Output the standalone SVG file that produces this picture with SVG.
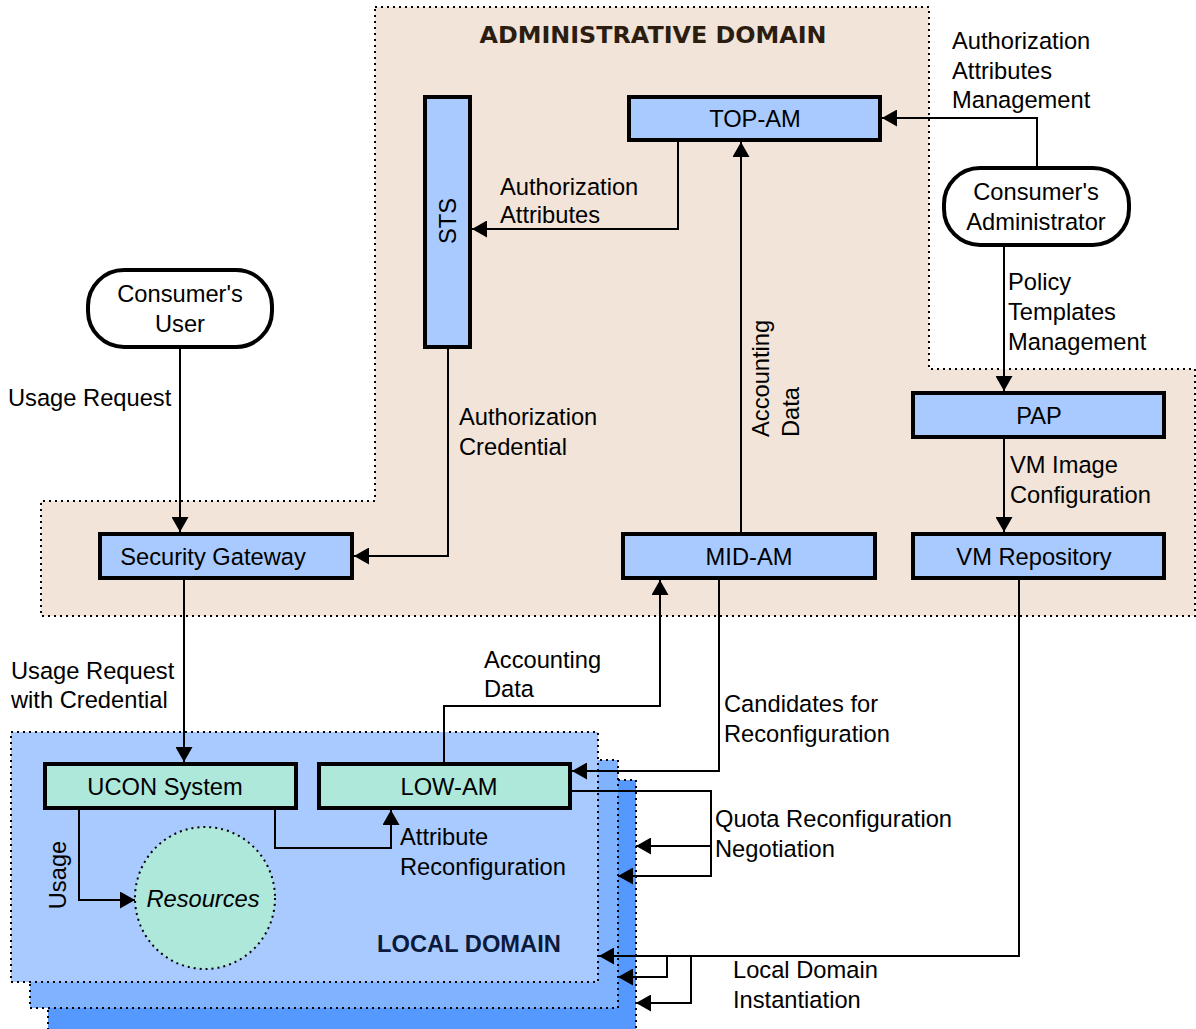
<svg xmlns="http://www.w3.org/2000/svg" width="1196" height="1029" viewBox="0 0 1196 1029">
  <style>
    .box { fill: #a9caff; stroke: #000; stroke-width: 4; }
    .teal { fill: #ade8db; stroke: #000; stroke-width: 4; }
    .pill { fill: #fff; stroke: #000; stroke-width: 4; }
    .zone { stroke: #000; stroke-width: 2; stroke-dasharray: 2 4; }
    .edge { fill: none; stroke: #000; stroke-width: 2; marker-end: url(#arrow); }
    text { font-family: "Liberation Sans", Arial, sans-serif; font-size: 23.7px; fill: #000; }
    .mid { text-anchor: middle; }
    .title { font-weight: bold; }
  </style>
  <defs>
    <marker id="arrow" markerUnits="userSpaceOnUse" markerWidth="15" markerHeight="17" viewBox="0 0 15 17" refX="15" refY="8.5" orient="auto">
      <path d="M0,0 L15,8.5 L0,17 z" fill="#000"/>
    </marker>
  </defs>

  <rect width="1196" height="1029" fill="#fff"/>

  <!-- administrative domain area -->
  <g id="admin-domain">
    <polygon class="zone" fill="#f2e4d8" points="375,7 929,7 929,369 1195,369 1195,616 41,616 41,501 375,501"/>
    <text class="mid title" x="653" y="43" style="font-family:'DejaVu Sans',Verdana,sans-serif;font-size:23px;fill:#2b1d10" textLength="347" lengthAdjust="spacingAndGlyphs">ADMINISTRATIVE DOMAIN</text>
  </g>

  <!-- stacked local domains -->
  <g id="local-domain">
    <rect class="zone" fill="#5599ff" x="48" y="780" width="588" height="260"/>
    <rect class="zone" fill="#80b3ff" x="30" y="760" width="588" height="248"/>
    <rect class="zone" fill="#a9caff" x="11" y="732" width="587" height="250"/>
    <text class="mid title" x="469" y="952" style="fill:#0b1a3b">LOCAL DOMAIN</text>
  </g>

  <!-- connectors -->
  <g id="connectors">
    <path class="edge" d="M1037,166 V118 H882"/>
    <path class="edge" d="M1004,247 V391"/>
    <path class="edge" d="M1004,439 V532"/>
    <path class="edge" d="M678,142 V229 H472"/>
    <path class="edge" d="M448,349 V556 H354"/>
    <path class="edge" d="M180,349 V532"/>
    <path class="edge" d="M184,580 V762"/>
    <path class="edge" d="M741,532 V142"/>
    <path class="edge" d="M444,762 V706 H660 V580"/>
    <path class="edge" d="M719,580 V771 H572"/>
    <path class="edge" d="M572,791 H711 V876 H618"/>
    <path class="edge" d="M711,846 H636"/>
    <path class="edge" d="M1019,580 V956 H599"/>
    <path class="edge" d="M667,956 V977 H618"/>
    <path class="edge" d="M691,956 V1003 H636"/>
    <path class="edge" d="M79,810 V900 H135"/>
    <path class="edge" d="M275,810 V848 H391 V810"/>
  </g>

  <!-- connector labels -->
  <g id="labels">
    <text x="952" y="49">Authorization</text>
    <text x="952" y="78.5">Attributes</text>
    <text x="952" y="108">Management</text>
    <text x="1008" y="290">Policy</text>
    <text x="1008" y="320">Templates</text>
    <text x="1008" y="350">Management</text>
    <text x="1010" y="473">VM Image</text>
    <text x="1010" y="503">Configuration</text>
    <text x="500" y="195">Authorization</text>
    <text x="500" y="223">Attributes</text>
    <text transform="translate(769,437) rotate(-90)">Accounting</text>
    <text transform="translate(798.5,437) rotate(-90)">Data</text>
    <text x="8" y="406">Usage Request</text>
    <text x="459" y="425">Authorization</text>
    <text x="459" y="455">Credential</text>
    <text x="11" y="679">Usage Request</text>
    <text x="11" y="708">with Credential</text>
    <text x="484" y="668">Accounting</text>
    <text x="484" y="697">Data</text>
    <text x="724" y="712">Candidates for</text>
    <text x="724" y="742">Reconfiguration</text>
    <text x="715" y="827">Quota Reconfiguration</text>
    <text x="715" y="857">Negotiation</text>
    <text x="400" y="845">Attribute</text>
    <text x="400" y="875">Reconfiguration</text>
    <text class="mid" transform="translate(66,875) rotate(-90)">Usage</text>
    <text x="733" y="978">Local Domain</text>
    <text x="733" y="1008">Instantiation</text>
  </g>

  <!-- nodes -->
  <g id="top-am">
    <rect class="box" x="629" y="97" width="251" height="43"/>
    <text class="mid" x="755" y="127">TOP-AM</text>
  </g>
  <g id="sts">
    <rect class="box" x="425" y="97" width="45" height="250"/>
    <text class="mid" transform="translate(456,221) rotate(-90)">STS</text>
  </g>
  <g id="consumers-administrator">
    <rect class="pill" x="944" y="168" width="185" height="77" rx="36"/>
    <text class="mid" x="1036" y="200">Consumer's</text>
    <text class="mid" x="1036" y="229.5">Administrator</text>
  </g>
  <g id="consumers-user">
    <rect class="pill" x="88" y="270" width="184" height="77" rx="36"/>
    <text class="mid" x="180" y="302">Consumer's</text>
    <text class="mid" x="180" y="331.5">User</text>
  </g>
  <g id="pap">
    <rect class="box" x="913" y="393" width="251" height="44"/>
    <text class="mid" x="1039" y="424">PAP</text>
  </g>
  <g id="security-gateway">
    <rect class="box" x="100" y="534" width="252" height="44"/>
    <text class="mid" x="213" y="565">Security Gateway</text>
  </g>
  <g id="mid-am">
    <rect class="box" x="623" y="534" width="252" height="44"/>
    <text class="mid" x="749" y="565">MID-AM</text>
  </g>
  <g id="vm-repository">
    <rect class="box" x="913" y="534" width="251" height="44"/>
    <text class="mid" x="1034" y="565">VM Repository</text>
  </g>
  <g id="ucon-system">
    <rect class="teal" x="45" y="764" width="251" height="44"/>
    <text class="mid" x="165" y="795">UCON System</text>
  </g>
  <g id="low-am">
    <rect class="teal" x="319" y="764" width="251" height="44"/>
    <text class="mid" x="449" y="795">LOW-AM</text>
  </g>
  <g id="resources">
    <ellipse cx="205" cy="898" rx="70" ry="71" fill="#ade8db" stroke="#000" stroke-width="2" stroke-dasharray="2 4"/>
    <text class="mid" x="203" y="907" font-style="italic">Resources</text>
  </g>
</svg>
